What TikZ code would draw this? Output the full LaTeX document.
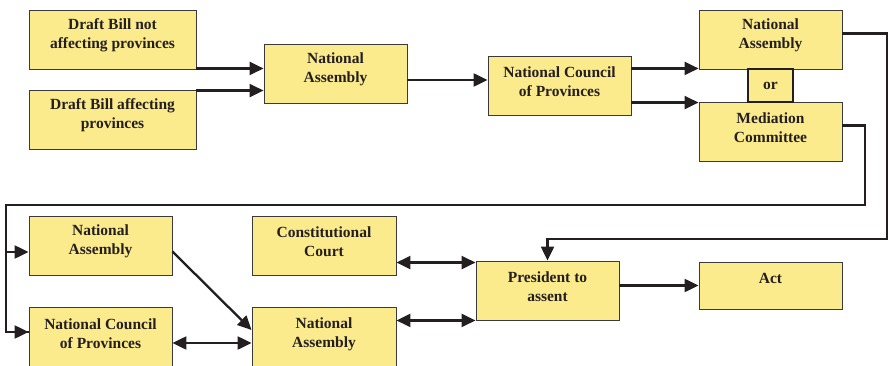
\documentclass[tikz,border=0pt]{standalone}
\usepackage{fontspec}
\setmainfont{Liberation Serif}
\usetikzlibrary{arrows.meta}
\definecolor{boxfill}{HTML}{FCEB8C}
\definecolor{boxline}{HTML}{3A3A3A}
\definecolor{ink}{HTML}{231F20}
\begin{document}
\begin{tikzpicture}[x=1pt,y=-1pt,
  box/.style={draw=boxline,line width=0.9pt,fill=boxfill,rectangle,inner sep=0pt,minimum width=143pt,minimum height=59pt},
  orbox/.style={draw=ink,line width=2.2pt,fill=boxfill,rectangle,inner sep=0pt,minimum width=45pt,minimum height=33pt},
  txt/.style={font=\fontsize{15.5}{19}\selectfont\bfseries,align=center,inner sep=0pt,text=ink},
  conn/.style={draw=ink,line width=2.3pt},
  arr/.style={conn,-{Triangle[length=14pt,width=13pt]}},
  darr/.style={conn,{Triangle[length=14pt,width=13pt]}-{Triangle[length=14pt,width=13pt]}}
]
\useasboundingbox (0,0) rectangle (888,366);
\clip (0,0) rectangle (888,366);
% boxes
\node[box,minimum width=167pt] (b1) at (112.5,39.5) {};
\node[box,minimum width=167pt] (b2) at (112.5,119.5) {};
\node[box] (na1) at (335.5,73.5) {};
\node[box] (ncop1) at (559.5,85.5) {};
\node[box] (naR) at (770.5,39.5) {};
\node[box] (med) at (770.5,131.5) {};
\node[box] (naL) at (100.5,245.5) {};
\node[box,minimum width=144pt] (cc) at (324,245.5) {};
\node[box,minimum height=60pt] (ncopB) at (100.5,337) {};
\node[box,minimum width=144pt,minimum height=60pt] (naB) at (324,337) {};
\node[box] (pres) at (547.5,290.5) {};
\node[box,minimum height=47pt] (act) at (770.5,285.5) {};
\node[orbox] (or) at (770.5,85.5) {};
% texts
\node[txt] (t1) at ([yshift=4pt]b1.center) {Draft Bill not\\affecting provinces};
\node[txt] (t2) at ([yshift=4pt]b2.center) {Draft Bill affecting\\provinces};
\node[txt] (t3) at ([yshift=4pt]na1.center) {National\\Assembly};
\node[txt] (t4) at ([yshift=4pt]ncop1.center) {National Council\\of Provinces};
\node[txt] (t5) at ([yshift=4pt]naR.center) {National\\Assembly};
\node[txt] (t6) at ([yshift=4pt]med.center) {Mediation\\Committee};
\node[txt] (t7) at (or.center) {or};
\node[txt] (t8) at ([yshift=4pt]naL.center) {National\\Assembly};
\node[txt] (t9) at ([yshift=4pt]cc.center) {Constitutional\\Court};
\node[txt] (t10) at ([yshift=3pt]ncopB.center) {National Council\\of Provinces};
\node[txt] (t11) at ([yshift=3pt]naB.center) {National\\Assembly};
\node[txt] (t12) at ([yshift=4pt]pres.center) {President to\\assent};
\node[txt] (t13) at ([yshift=7pt]act.center) {Act};
% waypoints
\coordinate (r1) at (887,239);
\coordinate (m1) at (865,205);
\coordinate (lc) at (6,205);
% connectors
\draw[arr] ([yshift=1pt]b1.south east) -- ([yshift=1pt]b1.south east -| na1.west);
\draw[arr] ([yshift=-1pt]b2.north east) -- ([yshift=-1pt]b2.north east -| na1.west);
\draw[arr] ([yshift=-6.5pt]na1.east) -- ([yshift=-6.5pt]na1.east -| ncop1.west);
\draw[arr] ([yshift=1pt]naR.south west -| ncop1.east) -- ([yshift=1pt]naR.south west);
\draw[arr] ([yshift=-1pt]med.north west -| ncop1.east) -- ([yshift=-1pt]med.north west);
\draw[arr] ([yshift=6pt]naR.east) -| (r1) -| (pres.north);
\draw[conn] ([yshift=6pt]med.east) -| (m1) -- (lc) |- ([yshift=5pt]ncopB.west);
\draw[arr] (lc) |- ([yshift=5pt]ncopB.west);
\draw[arr] (lc) |- ([yshift=-6.5pt]naL.west);
\draw[arr] ([yshift=-6pt]naL.east) -- ([yshift=7pt]naB.west);
\draw[darr] ([yshift=-6pt]ncopB.east) -- ([yshift=-6pt]naB.west);
\draw[darr] ([yshift=-2pt]pres.north west -| cc.east) -- ([yshift=-2pt]pres.north west);
\draw[darr] (pres.south west -| naB.east) -- (pres.south west);
\draw[arr] (act.west -| pres.east) -- (act.west);
\end{tikzpicture}
\end{document}
